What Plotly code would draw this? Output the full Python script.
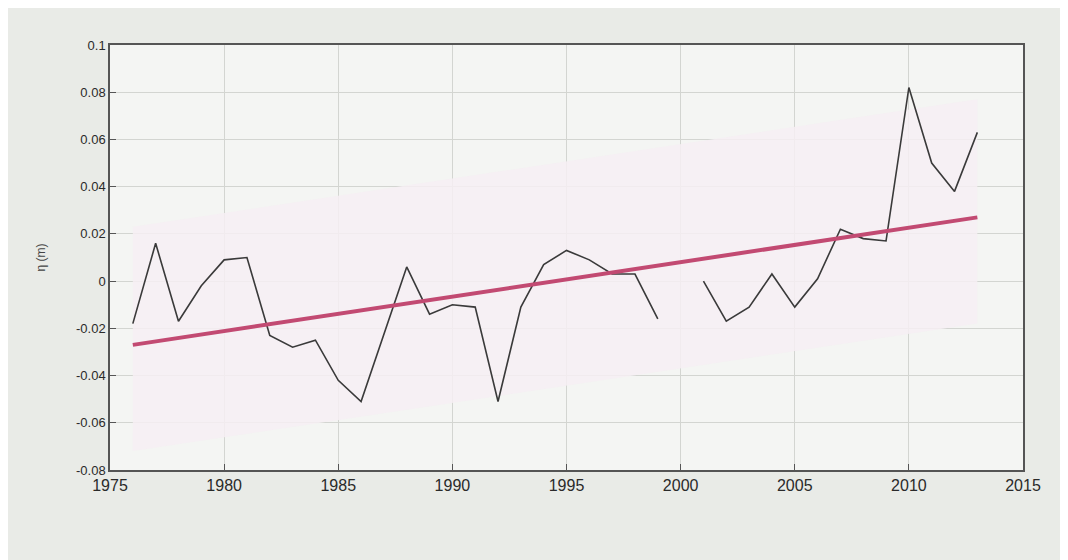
import plotly.graph_objects as go

years = list(range(1976, 2014))
eta = [-0.018, 0.016, -0.017, -0.002, 0.009, 0.010, -0.023, -0.028, -0.025, -0.042,
       -0.051, -0.022, 0.006, -0.014, -0.010, -0.011, -0.051, -0.011, 0.007, 0.013,
       0.009, 0.003, 0.003, -0.016, None, 0.000, -0.017, -0.011, 0.003, -0.011,
       0.001, 0.022, 0.018, 0.017, 0.082, 0.050, 0.038, 0.063]

trend_years = [1976, 2013]
trend_values = [-0.027, 0.027]
band_upper_offset = 0.050
band_lower_offset = -0.045

x_ticks = [1975, 1980, 1985, 1990, 1995, 2000, 2005, 2010, 2015]
y_ticks = [-0.08, -0.06, -0.04, -0.02, 0, 0.02, 0.04, 0.06, 0.08, 0.1]
y_tick_labels = ["-0.08", "-0.06", "-0.04", "-0.02", "0", "0.02", "0.04", "0.06", "0.08", "0.1"]

band_top = [v + band_upper_offset for v in trend_values]
band_bot = [v + band_lower_offset for v in trend_values]

fig = go.Figure()
fig.add_trace(go.Scatter(x=trend_years, y=band_bot, mode="lines",
                         line=dict(width=0), hoverinfo="skip", showlegend=False))
fig.add_trace(go.Scatter(x=trend_years, y=band_top, mode="lines", fill="tonexty",
                         fillcolor="rgba(246,238,243,0.85)", line=dict(width=0),
                         hoverinfo="skip", showlegend=False))
fig.add_trace(go.Scatter(x=years, y=eta, mode="lines", connectgaps=False,
                         line=dict(color="#3a3a3a", width=1.6), showlegend=False))
fig.add_trace(go.Scatter(x=trend_years, y=trend_values, mode="lines",
                         line=dict(color="#c24a72", width=4), showlegend=False))

axis_common = dict(showline=True, linecolor="#555555", linewidth=1.5, mirror=True,
                   ticks="inside", ticklen=6, tickcolor="#555555",
                   showgrid=True, gridcolor="#d3d5d1", gridwidth=1, zeroline=False)

fig.update_xaxes(range=[1975, 2015], tickvals=x_ticks, **axis_common)
fig.update_xaxes(tickfont=dict(size=16, color="#2a2a2a", family="Liberation Sans, Arial"))
fig.update_yaxes(range=[-0.08, 0.1], tickvals=y_ticks, ticktext=y_tick_labels, **axis_common)
fig.update_yaxes(tickfont=dict(size=13, color="#2a2a2a", family="Liberation Sans, Arial"),
                 title=dict(text="η (m)", font=dict(size=12, color="#444444",
                                                    family="Liberation Sans, Arial"),
                            standoff=28))

fig.update_layout(width=1068, height=560,
                  margin=dict(l=102, r=53, t=37, b=98),
                  paper_bgcolor="#e9ebe7", plot_bgcolor="#f4f5f3",
                  showlegend=False)

fig.write_html("out.html")
